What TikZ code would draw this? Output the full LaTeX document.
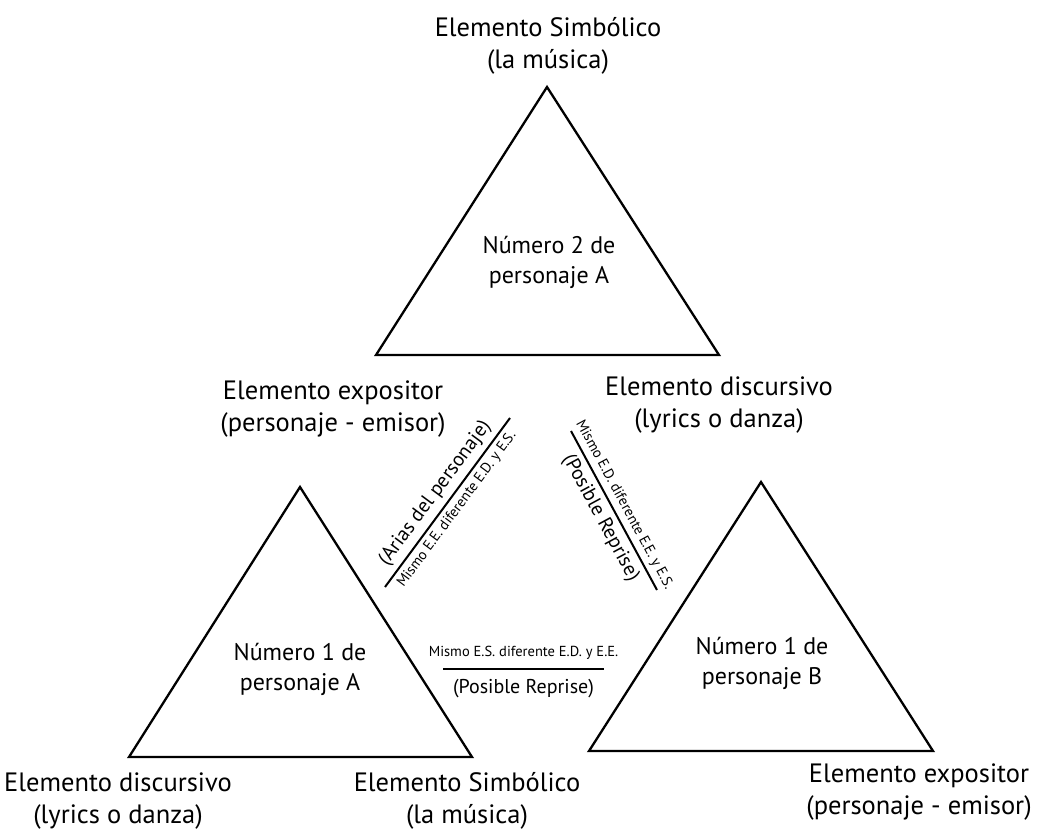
\documentclass[tikz,border=0pt]{standalone}
\usepackage{fontspec}
\setmainfont{PT Sans}
\begin{document}
\begin{tikzpicture}[x=1pt,y=-1pt,
  tri/.style={draw=black, line width=2.3pt, line join=miter},
  bar/.style={draw=black, line width=2pt},
  lbl/.style={align=center, inner sep=0pt, font=\fontsize{26.5}{32}\selectfont},
  num/.style={align=center, inner sep=0pt, font=\fontsize{24}{30}\selectfont},
  mid/.style={inner sep=0pt, font=\fontsize{20}{24}\selectfont},
  small/.style={inner sep=0pt, font=\fontsize{14.5}{17}\selectfont}]
\useasboundingbox (0,0) rectangle (1051,834);
% triangles
\coordinate (tA) at (547,87);  \coordinate (tL) at (376,355); \coordinate (tR) at (719,355);
\coordinate (aA) at (300,487); \coordinate (aL) at (129,757); \coordinate (aR) at (472,757);
\coordinate (bA) at (761,482); \coordinate (bL) at (589,751); \coordinate (bR) at (933,751);
\draw[tri] (tA) -- (tL) -- (tR) -- cycle;
\draw[tri] (aA) -- (aL) -- (aR) -- cycle;
\draw[tri] (bA) -- (bL) -- (bR) -- cycle;
% triangle contents
\node[num] (n2) at (549,262) {Número 2 de\\personaje A};
\node[num] (n1a) at (300,669) {Número 1 de\\personaje A};
\node[num] (n1b) at (762,663) {Número 1 de\\personaje B};
% corner labels
\node[lbl] (ls) at (548,46) {Elemento Simbólico\\(la música)};
\node[lbl] (le1) at (333,409) {Elemento expositor\\(personaje - emisor)};
\node[lbl] (ld1) at (719,405) {Elemento discursivo\\(lyrics o danza)};
\node[lbl] (ld2) at (118,801) {Elemento discursivo\\(lyrics o danza)};
\node[lbl] (ls2) at (467,801) {Elemento Simbólico\\(la música)};
\node[lbl] (le2) at (919,792) {Elemento expositor\\(personaje - emisor)};
% relation bars
\coordinate (d1s) at (385,587); \coordinate (d1e) at (510,418);
\draw[bar] (d1s) -- (d1e)
  node[midway, sloped, above=5pt, mid] (t1) {(Arias del personaje)}
  node[midway, sloped, below=4pt, small] (s1) {Mismo E.E. diferente E.D. y E.S.};
\coordinate (d2s) at (571,431); \coordinate (d2e) at (657,590);
\draw[bar] (d2s) -- (d2e)
  node[midway, sloped, above=4pt, small] (s2) {Mismo E.D. diferente E.E. y E.S.}
  node[midway, sloped, below=5pt, mid] (t2) {(Posible Reprise)};
\coordinate (d3s) at (443,669); \coordinate (d3e) at (604,669);
\draw[bar] (d3s) -- (d3e)
  node[midway, above=9pt, small] (s3) {Mismo E.S. diferente E.D. y E.E.}
  node[midway, below=9pt, mid] (t3) {(Posible Reprise)};
\end{tikzpicture}
\end{document}
